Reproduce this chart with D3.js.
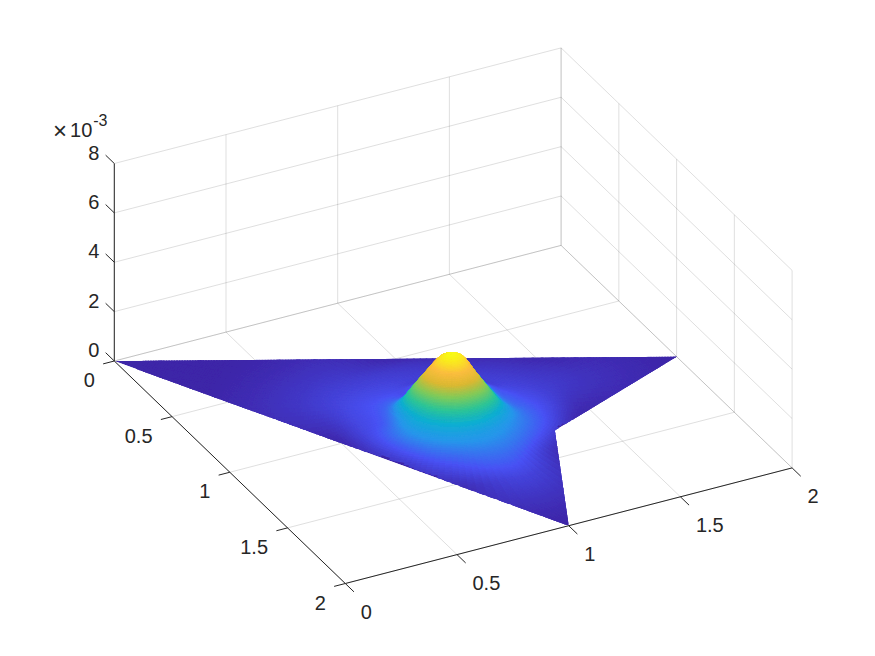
<!DOCTYPE html>
<html>
<head>
<meta charset="utf-8">
<script src="https://d3js.org/d3.v7.min.js"></script>
<style>
  html, body { margin: 0; padding: 0; background: #fff; }
  svg { display: block; }
  text { font-family: "Liberation Sans", Arial, sans-serif; fill: #262626; font-size: 20px; }
</style>
</head>
<body>
<script>
// axis ticks
var xTicks = [0, 0.5, 1, 1.5, 2];
var yTicks = [0, 0.5, 1, 1.5, 2];
var zTicks = [0, 2, 4, 6, 8];
var tickLabels = ["0", "0.5", "1", "1.5", "2"];
var zLabels = ["0", "2", "4", "6", "8"];

// outline of the surface on the floor
var domainX = [0, 2, 1.3, 1];
var domainY = [0, 1, 1.3, 2];

// surface, z in units of 1e-3, on spokes round the peak
var peak = [0.99, 1];
var zMax = 2.5;
var spokeAngles = [0, 30, 60, 90, 120, 150, 180, 210, 240, 270, 300, 330];
var ringRadii = [0, 0.05, 0.1, 0.15, 0.2, 0.25, 0.3, 0.4, 0.5, 0.6, 0.8, 1, 1.3];
var spoke000 = [2.5, 2.3, 1.6, 0.95, 0.45, 0.32, 0.25, 0.18, 0.13, 0.09, 0.04, 0, 0];
var spoke030 = [2.5, 2.35, 1.75, 1.15, 0.65, 0.45, 0.38, 0.24, 0.04, 0, 0, 0, 0];
var spoke060 = [2.5, 2.4, 2.1, 1.68, 1.25, 0.8, 0.58, 0.36, 0.08, 0, 0, 0, 0];
var spoke090 = [2.5, 2.42, 2.2, 1.75, 1.35, 0.98, 0.72, 0.52, 0.36, 0.22, 0.08, 0, 0];
var spoke120 = [2.5, 2.42, 2.2, 1.75, 1.35, 0.98, 0.74, 0.44, 0.2, 0, 0, 0, 0];
var spoke150 = [2.5, 2.42, 2.15, 1.7, 1.25, 0.88, 0.64, 0.3, 0, 0, 0, 0, 0];
var spoke180 = [2.5, 2.38, 2.05, 1.62, 1.12, 0.58, 0.36, 0.22, 0.02, 0, 0, 0, 0];
var spoke210 = [2.5, 2.3, 1.75, 1.15, 0.6, 0.4, 0.32, 0.25, 0.18, 0.12, 0.05, 0, 0];
var spoke240 = [2.5, 2.25, 1.55, 0.85, 0.35, 0.27, 0.24, 0.19, 0.14, 0.1, 0.03, 0, 0];
var spoke270 = [2.5, 2.25, 1.8, 1.3, 0.7, 0.22, 0.18, 0.12, 0.02, 0, 0, 0, 0];
var spoke300 = [2.5, 2.25, 1.85, 1.3, 0.8, 0.3, 0.18, 0.08, 0, 0, 0, 0, 0];
var spoke330 = [2.5, 2.25, 1.8, 1.25, 0.6, 0.22, 0.18, 0.12, 0.05, 0, 0, 0, 0];
var zRows = [spoke000, spoke030, spoke060, spoke090, spoke120, spoke150,
             spoke180, spoke210, spoke240, spoke270, spoke300, spoke330];

// parula
var parulaStops = [0, 0.125, 0.25, 0.375, 0.5, 0.625, 0.75, 0.875, 1];
var parulaColors = ["#3e26a8", "#4852f4", "#2796eb", "#0db0d0", "#2ec795", "#81cc59", "#ddba30", "#fdbe3d", "#f9fb15"];

var width = 875, height = 656;

var svg = d3.select("body").append("svg")
    .attr("width", width)
    .attr("height", height);

// oblique view: each axis moves the point along its own screen vector
var xToSX = d3.scaleLinear().domain([0, 2]).range([0, 446.8]);
var xToSY = d3.scaleLinear().domain([0, 2]).range([0, -115.6]);
var yToSX = d3.scaleLinear().domain([0, 2]).range([0, 231]);
var yToSY = d3.scaleLinear().domain([0, 2]).range([0, 222.5]);
var zToSY = d3.scaleLinear().domain([0, 8]).range([0, -197.5]);
var origin = [114.3, 361];

function project(x, y, z) {
  return [origin[0] + xToSX(x) + yToSX(y),
          origin[1] + xToSY(x) + yToSY(y) + zToSY(z)];
}

var color = d3.scaleLinear()
    .domain(parulaStops.map(function(d) { return d * zMax; }))
    .range(parulaColors)
    .clamp(true);

function seg(a, b) {
  return "M" + a.join(",") + "L" + b.join(",");
}

// grid
var gridPaths = [];
xTicks.forEach(function(x) {
  gridPaths.push(seg(project(x, 0, 0), project(x, 2, 0)));
  gridPaths.push(seg(project(x, 0, 0), project(x, 0, 8)));
});
yTicks.forEach(function(y) {
  gridPaths.push(seg(project(0, y, 0), project(2, y, 0)));
  gridPaths.push(seg(project(2, y, 0), project(2, y, 8)));
});
zTicks.forEach(function(z) {
  gridPaths.push(seg(project(0, 0, z), project(2, 0, z)));
  gridPaths.push(seg(project(2, 0, z), project(2, 2, z)));
});

svg.append("g").selectAll("path")
    .data(gridPaths)
    .enter().append("path")
    .attr("d", function(d) { return d; })
    .attr("fill", "none")
    .attr("stroke", "#262626")
    .attr("stroke-opacity", 0.15)
    .attr("stroke-width", 1);

// surface
var outline = domainX.map(function(x, i) { return [x, domainY[i]]; });
var outlinePath = "M" + outline.map(function(c) { return project(c[0], c[1], 0).join(","); }).join("L") + "Z";

function catmull(p0, p1, p2, p3, t) {
  return 0.5 * (2 * p1 + (p2 - p0) * t + (2 * p0 - 5 * p1 + 4 * p2 - p3) * t * t +
    (3 * p1 - p0 - 3 * p2 + p3) * t * t * t);
}

function alongRing(row, t) {
  var n = row.length - 1,
      i = Math.min(Math.floor(t), n - 1),
      f = t - i;
  return catmull(row[Math.max(i - 1, 0)], row[i], row[i + 1], row[Math.min(i + 2, n)], f);
}

function surfaceZ(a, t) {
  var n = zRows.length,
      i = Math.floor(a) % n,
      f = a - Math.floor(a);
  var v = catmull(
    alongRing(zRows[(i + n - 1) % n], t),
    alongRing(zRows[i], t),
    alongRing(zRows[(i + 1) % n], t),
    alongRing(zRows[(i + 2) % n], t), f);
  return Math.min(Math.max(v, 0), zMax);
}

function radiusAt(t) {
  var i = Math.min(Math.floor(t), ringRadii.length - 2);
  return ringRadii[i] + (ringRadii[i + 1] - ringRadii[i]) * (t - i);
}

// fine steps between the rings, for the smooth shading
var ringSteps = [];
ringRadii.slice(1).forEach(function(r, i) {
  var n = Math.ceil((r - ringRadii[i]) / (r <= 0.3 ? 0.005 : 0.01));
  for (var k = 0; k < n; k++) ringSteps.push(i + k / n);
});
ringSteps.push(ringRadii.length - 1);
var angleSteps = d3.range(0, spokeAngles.length + 0.001, 0.1);

function vertex(a, t) {
  var r = radiusAt(t),
      deg = a * 30 * Math.PI / 180;
  return [peak[0] + r * Math.cos(deg), peak[1] + r * Math.sin(deg)];
}

var coreQuads = [], skirtQuads = [];
for (var i = 0; i < angleSteps.length - 1; i++) {
  for (var j = 0; j < ringSteps.length - 1; j++) {
    var a0 = angleSteps[i], a1 = angleSteps[i + 1], t0 = ringSteps[j], t1 = ringSteps[j + 1];
    var corners = [vertex(a0, t0), vertex(a1, t0), vertex(a1, t1), vertex(a0, t1)];
    if (!corners.some(function(c) { return d3.polygonContains(outline, c); })) continue;
    var zs = [surfaceZ(a0, t0), surfaceZ(a1, t0), surfaceZ(a1, t1), surfaceZ(a0, t1)];
    var q = {
      pts: corners.map(function(c, k) { return project(c[0], c[1], zs[k]); }),
      z: d3.mean(zs),
      depth: d3.mean(corners, function(c) { return project(c[0], c[1], 0)[1]; })
    };
    // the skirt is cut at the outline, the bump may stand above it
    if (radiusAt(t0) < 0.25) coreQuads.push(q); else skirtQuads.push(q);
  }
}
coreQuads.sort(function(a, b) { return a.depth - b.depth; });
skirtQuads.sort(function(a, b) { return a.depth - b.depth; });

var defs = svg.append("defs");
defs.append("clipPath").attr("id", "outline-clip")
  .append("path").attr("d", outlinePath);
defs.append("filter").attr("id", "soft")
    .attr("x", "-5%").attr("y", "-5%").attr("width", "110%").attr("height", "110%")
  .append("feGaussianBlur").attr("stdDeviation", 0.7);

function drawQuads(parent, data, sw) {
  parent.selectAll("path")
      .data(data)
      .enter().append("path")
      .attr("d", function(d) { return "M" + d.pts.map(function(p) { return p[0].toFixed(2) + "," + p[1].toFixed(2); }).join("L") + "Z"; })
      .attr("fill", function(d) { return color(d.z); })
      .attr("stroke", function(d) { return color(d.z); })
      .attr("stroke-width", sw);
}

var surface = svg.append("g").attr("filter", "url(#soft)");
var skirt = surface.append("g").attr("clip-path", "url(#outline-clip)");
skirt.append("path").attr("d", outlinePath).attr("fill", color(0));
drawQuads(skirt.append("g"), skirtQuads, 1.2);
drawQuads(surface.append("g"), coreQuads, 0.8);

// axis lines and ticks
var axisPaths = [
  seg(project(0, 0, 0), project(0, 0, 8)),
  seg(project(0, 0, 0), project(0, 2, 0)),
  seg(project(0, 2, 0), project(2, 2, 0))
];
zTicks.forEach(function(z) { axisPaths.push(seg(project(0, 0, z), project(0, -0.075, z))); });
yTicks.forEach(function(y) { axisPaths.push(seg(project(0, y, 0), project(-0.05, y, 0))); });
xTicks.forEach(function(x) { axisPaths.push(seg(project(x, 2, 0), project(x, 2.075, 0))); });

svg.append("g").selectAll("path")
    .data(axisPaths)
    .enter().append("path")
    .attr("d", function(d) { return d; })
    .attr("fill", "none")
    .attr("stroke", "#262626")
    .attr("stroke-width", 1);

// tick labels
svg.append("g").selectAll("text")
    .data(zTicks)
    .enter().append("text")
    .attr("x", function(d) { return project(0, 0, d)[0] - 15; })
    .attr("y", function(d) { return project(0, 0, d)[1] - 4; })
    .attr("text-anchor", "end")
    .text(function(d, i) { return zLabels[i]; });

svg.append("g").selectAll("text")
    .data(yTicks)
    .enter().append("text")
    .attr("x", function(d) { return project(0, d, 0)[0] - 19.5; })
    .attr("y", function(d) { return project(0, d, 0)[1] + 26; })
    .attr("text-anchor", "end")
    .text(function(d, i) { return tickLabels[i]; });

svg.append("g").selectAll("text")
    .data(xTicks)
    .enter().append("text")
    .attr("x", function(d) { return project(d, 2, 0)[0] + 15.5; })
    .attr("y", function(d) { return project(d, 2, 0)[1] + 35; })
    .attr("text-anchor", "start")
    .text(function(d, i) { return tickLabels[i]; });

// exponent
var expo = svg.append("text").attr("x", 53).attr("y", 137);
expo.append("tspan").attr("font-size", "24px").attr("dy", 2).text("\u00d7");
expo.append("tspan").attr("dx", 3).attr("dy", -2).text("10");
expo.append("tspan").attr("dy", -11).attr("dx", 1).attr("font-size", "16px").text("-3");
</script>
</body>
</html>
